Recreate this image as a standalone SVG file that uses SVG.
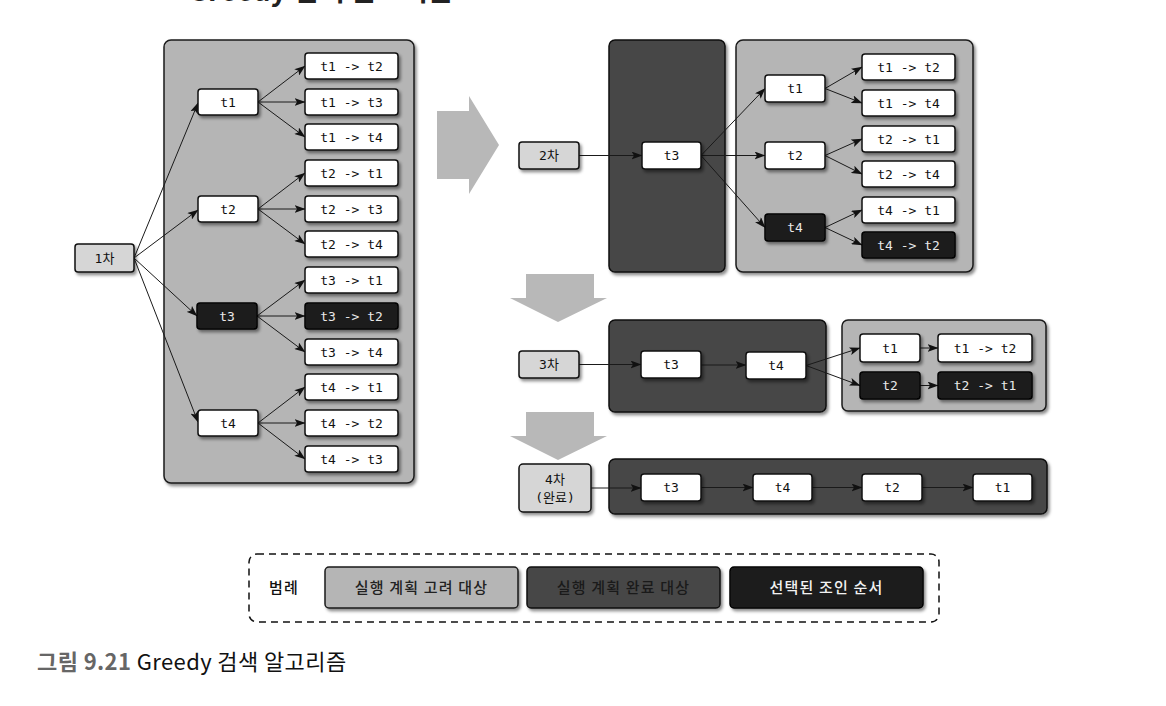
<svg xmlns="http://www.w3.org/2000/svg" width="1166" height="706" viewBox="0 0 1166 706">
  <defs>
    <filter id="shadow" x="-20%" y="-20%" width="150%" height="160%">
      <feDropShadow dx="2" dy="2.5" stdDeviation="1.6" flood-color="#000" flood-opacity="0.45"/>
    </filter>
    <marker id="arr" viewBox="0 0 11 8" markerWidth="11" markerHeight="8" refX="10.5" refY="4" orient="auto" markerUnits="userSpaceOnUse">
      <path d="M0,0 L11,4 L0,8 L2.5,4 z" fill="#111"/>
    </marker>
    <style>
      .panel-l { fill: #b5b5b5; stroke: #1a1a1a; stroke-width: 1.5; filter: url(#shadow); }
      .panel-d { fill: #474747; stroke: #111; stroke-width: 1.5; filter: url(#shadow); }
      .n-w { fill: #ffffff; stroke: #111; stroke-width: 1.5; filter: url(#shadow); }
      .n-k { fill: #1e1e1e; stroke: #000; stroke-width: 1.5; filter: url(#shadow); }
      .n-g { fill: #d6d6d6; stroke: #111; stroke-width: 1.5; filter: url(#shadow); }
      .lbl { font-family: "DejaVu Sans Mono", "Noto Sans CJK KR", monospace; font-size: 13px; fill: #111; text-anchor: middle; }
      .lbl-k { fill: #e8e8e8; }
      .conn { fill: none; stroke: #1a1a1a; stroke-width: 1; marker-end: url(#arr); }
      .big { fill: #b8b8b8; }
      .leg { font-family: "Noto Sans CJK KR", sans-serif; font-size: 15px; font-weight: 500; text-anchor: middle; letter-spacing: 1.2px; }
    </style>
  </defs>

  <rect width="1166" height="706" fill="#ffffff"/>

  <!-- section heading, clipped at the top edge -->
  <text x="188" y="0.5" font-family="Noto Sans CJK KR, sans-serif" font-size="28" font-weight="bold" fill="#222">Greedy 검색 알고리즘</text>

  <!-- panels -->
  <g id="panels">
    <rect class="panel-l" x="164" y="40" width="250" height="443" rx="7"/>
    <rect class="panel-d" x="609" y="40" width="116" height="232" rx="6"/>
    <rect class="panel-l" x="736" y="40" width="237" height="232" rx="7"/>
    <rect class="panel-d" x="609" y="320" width="217" height="92" rx="6"/>
    <rect class="panel-l" x="842" y="320" width="204" height="91" rx="6"/>
    <rect class="panel-d" x="609" y="459" width="438" height="55" rx="6"/>
  </g>

  <!-- step arrows -->
  <g id="step-arrows">
    <polygon class="big" points="437,111 469,111 469,96 499,145 469,194 469,179 437,179"/>
    <polygon class="big" points="526,274 594,274 594,298 607,298 558,322 510,298 526,298"/>
    <polygon class="big" points="526,412 594,412 594,436 607,436 558,460 510,436 526,436"/>
  </g>

  <!-- connectors -->
  <g id="connectors">
    <!-- step 1 -->
    <path class="conn" d="M134,258 L198,103"/>
    <path class="conn" d="M134,258 L198,210"/>
    <path class="conn" d="M134,258 L197,316"/>
    <path class="conn" d="M134,258 L198,422"/>
    <path class="conn" d="M258,102 L305,66"/>
    <path class="conn" d="M258,102 L305,102"/>
    <path class="conn" d="M258,102 L305,137"/>
    <path class="conn" d="M258,209 L305,173"/>
    <path class="conn" d="M258,209 L305,209"/>
    <path class="conn" d="M258,209 L305,244"/>
    <path class="conn" d="M257,316 L305,280"/>
    <path class="conn" d="M257,316 L305,316"/>
    <path class="conn" d="M257,316 L305,352"/>
    <path class="conn" d="M258,423 L305,387"/>
    <path class="conn" d="M258,423 L305,423"/>
    <path class="conn" d="M258,423 L305,459"/>
    <!-- step 2 -->
    <path class="conn" d="M579,155.5 L642,155.5"/>
    <path class="conn" d="M701,155.5 L765,88.5"/>
    <path class="conn" d="M701,155.5 L765,155.5"/>
    <path class="conn" d="M701,155.5 L765,227.5"/>
    <path class="conn" d="M825,88.5 L862,67"/>
    <path class="conn" d="M825,88.5 L862,103"/>
    <path class="conn" d="M825,155.5 L862,139"/>
    <path class="conn" d="M825,155.5 L862,174"/>
    <path class="conn" d="M825,227.5 L862,210"/>
    <path class="conn" d="M825,227.5 L862,245"/>
    <!-- step 3 -->
    <path class="conn" d="M579,364.5 L641,364.5"/>
    <path class="conn" d="M701,365 L746,365"/>
    <path class="conn" d="M806,365.5 L860,348"/>
    <path class="conn" d="M806,365.5 L860,385.5"/>
    <path class="conn" d="M920,348 L938,348"/>
    <path class="conn" d="M920,385.5 L938,385.5"/>
    <!-- step 4 -->
    <path class="conn" d="M591,488 L641,488"/>
    <path class="conn" d="M701,487.5 L753,487.5"/>
    <path class="conn" d="M812,487.5 L862,487.5"/>
    <path class="conn" d="M922,487.5 L973,487.5"/>
  </g>

  <!-- step 1 nodes -->
  <g id="s1-root"><rect class="n-g" x="75" y="244" width="59" height="28" rx="3"/><text class="lbl" x="104.5" y="262.5">1차</text></g>
  <g id="s1-t1"><rect class="n-w" x="198" y="89" width="60" height="26" rx="3"/><text class="lbl" x="228" y="106.5">t1</text></g>
  <g id="s1-t2"><rect class="n-w" x="198" y="196" width="60" height="26" rx="3"/><text class="lbl" x="228" y="213.5">t2</text></g>
  <g id="s1-t3"><rect class="n-k" x="197" y="303" width="60" height="26" rx="3"/><text class="lbl lbl-k" x="227" y="320.5">t3</text></g>
  <g id="s1-t4"><rect class="n-w" x="198" y="410" width="60" height="26" rx="3"/><text class="lbl" x="228" y="427.5">t4</text></g>

  <g id="s1-t1t2"><rect class="n-w" x="305" y="53" width="93" height="26" rx="3"/><text class="lbl" x="351.5" y="70.5">t1 -&gt; t2</text></g>
  <g id="s1-t1t3"><rect class="n-w" x="305" y="89" width="93" height="26" rx="3"/><text class="lbl" x="351.5" y="106.5">t1 -&gt; t3</text></g>
  <g id="s1-t1t4"><rect class="n-w" x="305" y="124" width="93" height="26" rx="3"/><text class="lbl" x="351.5" y="141.5">t1 -&gt; t4</text></g>
  <g id="s1-t2t1"><rect class="n-w" x="305" y="160" width="93" height="26" rx="3"/><text class="lbl" x="351.5" y="177.5">t2 -&gt; t1</text></g>
  <g id="s1-t2t3"><rect class="n-w" x="305" y="196" width="93" height="26" rx="3"/><text class="lbl" x="351.5" y="213.5">t2 -&gt; t3</text></g>
  <g id="s1-t2t4"><rect class="n-w" x="305" y="231" width="93" height="26" rx="3"/><text class="lbl" x="351.5" y="248.5">t2 -&gt; t4</text></g>
  <g id="s1-t3t1"><rect class="n-w" x="305" y="267" width="93" height="26" rx="3"/><text class="lbl" x="351.5" y="284.5">t3 -&gt; t1</text></g>
  <g id="s1-t3t2"><rect class="n-k" x="305" y="303" width="93" height="26" rx="3"/><text class="lbl lbl-k" x="351.5" y="320.5">t3 -&gt; t2</text></g>
  <g id="s1-t3t4"><rect class="n-w" x="305" y="339" width="93" height="26" rx="3"/><text class="lbl" x="351.5" y="356.5">t3 -&gt; t4</text></g>
  <g id="s1-t4t1"><rect class="n-w" x="305" y="374" width="93" height="26" rx="3"/><text class="lbl" x="351.5" y="391.5">t4 -&gt; t1</text></g>
  <g id="s1-t4t2"><rect class="n-w" x="305" y="410" width="93" height="26" rx="3"/><text class="lbl" x="351.5" y="427.5">t4 -&gt; t2</text></g>
  <g id="s1-t4t3"><rect class="n-w" x="305" y="446" width="93" height="26" rx="3"/><text class="lbl" x="351.5" y="463.5">t4 -&gt; t3</text></g>

  <!-- step 2 nodes -->
  <g id="s2-root"><rect class="n-g" x="519" y="142" width="60" height="27" rx="3"/><text class="lbl" x="549" y="160">2차</text></g>
  <g id="s2-t3"><rect class="n-w" x="642" y="142" width="59" height="27" rx="3"/><text class="lbl" x="671.5" y="160">t3</text></g>
  <g id="s2-t1"><rect class="n-w" x="765" y="75" width="60" height="27" rx="3"/><text class="lbl" x="795" y="93">t1</text></g>
  <g id="s2-t2"><rect class="n-w" x="765" y="142" width="60" height="27" rx="3"/><text class="lbl" x="795" y="160">t2</text></g>
  <g id="s2-t4"><rect class="n-k" x="765" y="214" width="60" height="27" rx="3"/><text class="lbl lbl-k" x="795" y="232">t4</text></g>
  <g id="s2-t1t2"><rect class="n-w" x="862" y="54" width="93" height="26" rx="3"/><text class="lbl" x="908.5" y="71.5">t1 -&gt; t2</text></g>
  <g id="s2-t1t4"><rect class="n-w" x="862" y="90" width="93" height="26" rx="3"/><text class="lbl" x="908.5" y="107.5">t1 -&gt; t4</text></g>
  <g id="s2-t2t1"><rect class="n-w" x="862" y="126" width="93" height="26" rx="3"/><text class="lbl" x="908.5" y="143.5">t2 -&gt; t1</text></g>
  <g id="s2-t2t4"><rect class="n-w" x="862" y="161" width="93" height="26" rx="3"/><text class="lbl" x="908.5" y="178.5">t2 -&gt; t4</text></g>
  <g id="s2-t4t1"><rect class="n-w" x="862" y="197" width="93" height="26" rx="3"/><text class="lbl" x="908.5" y="214.5">t4 -&gt; t1</text></g>
  <g id="s2-t4t2"><rect class="n-k" x="862" y="232" width="93" height="26" rx="3"/><text class="lbl lbl-k" x="908.5" y="249.5">t4 -&gt; t2</text></g>

  <!-- step 3 nodes -->
  <g id="s3-root"><rect class="n-g" x="519" y="351" width="60" height="27" rx="3"/><text class="lbl" x="549" y="369">3차</text></g>
  <g id="s3-t3"><rect class="n-w" x="641" y="351" width="60" height="27" rx="3"/><text class="lbl" x="671" y="369">t3</text></g>
  <g id="s3-t4"><rect class="n-w" x="746" y="352" width="60" height="27" rx="3"/><text class="lbl" x="776" y="370">t4</text></g>
  <g id="s3-t1"><rect class="n-w" x="860" y="334" width="60" height="28" rx="3"/><text class="lbl" x="890" y="352.5">t1</text></g>
  <g id="s3-t2"><rect class="n-k" x="860" y="372" width="60" height="27" rx="3"/><text class="lbl lbl-k" x="890" y="390">t2</text></g>
  <g id="s3-t1t2"><rect class="n-w" x="938" y="334" width="94" height="28" rx="3"/><text class="lbl" x="985" y="352.5">t1 -&gt; t2</text></g>
  <g id="s3-t2t1"><rect class="n-k" x="938" y="372" width="94" height="27" rx="3"/><text class="lbl lbl-k" x="985" y="390">t2 -&gt; t1</text></g>

  <!-- step 4 nodes -->
  <g id="s4-root"><rect class="n-g" x="519" y="464" width="72" height="48" rx="4"/><text class="lbl" x="555" y="484">4차</text><text class="lbl" x="555" y="502">(완료)</text></g>
  <g id="s4-t3"><rect class="n-w" x="641" y="474" width="60" height="27" rx="3"/><text class="lbl" x="671" y="492">t3</text></g>
  <g id="s4-t4"><rect class="n-w" x="753" y="474" width="59" height="27" rx="3"/><text class="lbl" x="782.5" y="492">t4</text></g>
  <g id="s4-t2"><rect class="n-w" x="862" y="474" width="60" height="27" rx="3"/><text class="lbl" x="892" y="492">t2</text></g>
  <g id="s4-t1"><rect class="n-w" x="973" y="474" width="59" height="27" rx="3"/><text class="lbl" x="1002.5" y="492">t1</text></g>

  <!-- legend -->
  <g id="legend">
    <rect x="249" y="554" width="690" height="68" rx="8" fill="none" stroke="#111" stroke-width="1.5" stroke-dasharray="7 5"/>
    <text class="leg" x="284" y="593" fill="#111">범례</text>
    <rect class="panel-l" x="325" y="567" width="193" height="41" rx="4"/>
    <text class="leg" x="421.5" y="593" fill="#222">실행 계획 고려 대상</text>
    <rect class="panel-d" x="527" y="567" width="193" height="41" rx="4"/>
    <text class="leg" x="623.5" y="593" fill="#1a1a1a">실행 계획 완료 대상</text>
    <rect class="n-k" x="730" y="567" width="193" height="41" rx="4"/>
    <text class="leg" x="826.5" y="593" fill="#f2f2f2">선택된 조인 순서</text>
  </g>

  <!-- caption -->
  <text x="37" y="670" font-family="Noto Sans CJK KR, sans-serif" font-size="22" letter-spacing="0.4"><tspan fill="#666" font-weight="bold">그림 9.21</tspan><tspan fill="#111"> Greedy 검색 알고리즘</tspan></text>
</svg>
